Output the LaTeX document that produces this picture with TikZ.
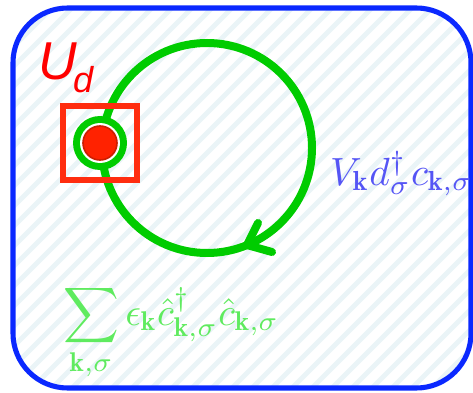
\documentclass[tikz,border=0pt]{standalone}
\usepackage{fontspec}
\newfontfamily\arialfont{Liberation Sans}
\definecolor{boxblue}{RGB}{10,40,255}
\definecolor{stripecol}{RGB}{234,244,247}
\definecolor{loopgreen}{RGB}{0,204,0}
\definecolor{sqred}{RGB}{255,45,15}
\definecolor{dotred}{RGB}{255,34,0}
\definecolor{dotdark}{RGB}{205,30,0}
\definecolor{ured}{RGB}{255,0,0}
\definecolor{hopblue}{RGB}{85,85,245}
\definecolor{bathgreen}{RGB}{95,235,95}
\tikzset{
  stripe/.style={draw=stripecol, line width=3.6pt},
  bathbox/.style={draw=boxblue, line width=3.8pt, rounded corners=41pt},
  loop/.style={draw=loopgreen, line width=6pt, line cap=round},
  impsq/.style={draw=sqred, line width=4.5pt},
  lbl/.style={inner sep=0pt, outer sep=0pt}
}
\begin{document}
\begin{tikzpicture}[x=0.75pt,y=-0.75pt]
\useasboundingbox (0,0) rectangle (473,392);
% background with stripes
\begin{scope}
  \clip[rounded corners=41pt] (13,8) rectangle (471,388);
  \fill[white] (0,0) rectangle (473,392);
  \foreach \k in {0,...,45} { \draw[stripe] (\k*20-400,400) -- (\k*20,0); }
\end{scope}
\draw[bathbox] (13,8) rectangle (471,388);
% hopping loop
\coordinate (c) at (207,148);
\draw[loop] (c) circle[radius=105];
\coordinate (tip) at (247,245);
\coordinate (armA) at (258,223);
\coordinate (armB) at (272,252);
\draw[loop] (armA) -- (tip) -- (armB);
% impurity
\coordinate (imp) at (100,143);
\draw[impsq] (63,106) rectangle (137,180);
\fill[loopgreen] (imp) circle[radius=27];
\fill[white] (imp) circle[radius=20];
\filldraw[fill=dotred, draw=dotdark, line width=1.2pt] (imp) circle[radius=17];
% labels
\node[lbl, anchor=base west, text=ured] (U) at (38,80) {\arialfont\itshape\fontsize{40}{40}\selectfont U};
\node[lbl, anchor=base west, text=ured] (d) at (73,93) {\arialfont\itshape\fontsize{27}{27}\selectfont d};
\node[lbl, anchor=base west, text=hopblue, scale=2.95] (hop) at (330,185) {$V_{\mathbf k} d^\dagger_\sigma c_{\mathbf k,\sigma}$};
\node[lbl, anchor=base west, text=bathgreen, scale=2.9] (bath) at (63,325) {$\displaystyle\sum_{\mathbf k,\sigma}\epsilon_{\mathbf k}\hat c^\dagger_{\mathbf k,\sigma}\hat c_{\mathbf k,\sigma}$};
\end{tikzpicture}
\end{document}
